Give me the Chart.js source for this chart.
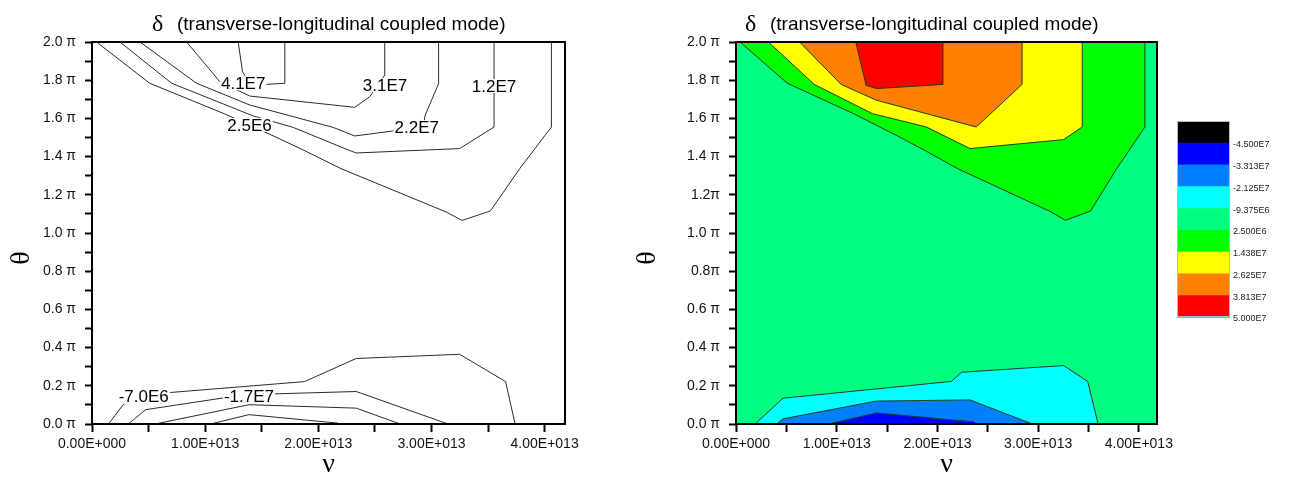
<!DOCTYPE html>
<html>
<head>
<meta charset="utf-8">
<script src="https://cdn.jsdelivr.net/npm/chart.js@4.4.1/dist/chart.umd.min.js"></script>
<style>
  html, body { margin: 0; padding: 0; background: #fff; }
  #wrap { position: relative; width: 1290px; height: 497px; }
  #left-box { position: absolute; left: 0; top: 0; width: 620px; height: 497px; }
  #right-box { position: absolute; left: 620px; top: 0; width: 670px; height: 497px; }
</style>
</head>
<body>
<div id="wrap">
  <div id="left-box"><canvas id="contour-lines"></canvas></div>
  <div id="right-box"><canvas id="contour-filled"></canvas></div>
</div>
<script>
// nu values are in units of 1E13, theta values in units of pi
const nuMax = 4.18;
const thetaMax = 2.0;

// 2.5E6 contour, shared by both panels
const lvl25e5Nu = [0.04, 0.51, 1.174, 1.60, 1.866, 2.20, 3.13, 3.27, 3.52, 3.78, 4.06, 4.06];
const lvl25e5Th = [2.0, 1.784, 1.623, 1.509, 1.435, 1.337, 1.11, 1.066, 1.115, 1.337, 1.555, 2.0];

// left panel: contour lines
const lvl12e7Nu = [0.247, 0.704, 1.424, 1.778, 2.263, 2.335, 3.249, 3.553, 3.553];
const lvl12e7Th = [2.0, 1.784, 1.613, 1.553, 1.435, 1.419, 1.442, 1.555, 2.0];
const lvl22e7Nu = [0.424, 0.924, 1.395, 2.131, 2.322, 2.657, 2.93, 2.944, 3.063, 3.063];
const lvl22e7Th = [2.0, 1.784, 1.670, 1.553, 1.508, 1.534, 1.57, 1.616, 1.782, 2.0];
const lvl31e7Nu = [0.836, 1.13, 1.395, 2.322, 2.455, 2.587, 2.587];
const lvl31e7Th = [2.0, 1.792, 1.717, 1.658, 1.714, 1.827, 2.0];
const lvl41e7Nu = [1.292, 1.33, 1.40, 1.54, 1.704, 1.704];
const lvl41e7Th = [2.0, 1.844, 1.78, 1.778, 1.784, 2.0];
const lvlM70e6Nu = [0.146, 0.30, 0.694, 1.878, 2.335, 3.249, 3.655, 3.739];
const lvlM70e6Th = [0, 0.12, 0.165, 0.222, 0.343, 0.365, 0.222, 0];
const lvlM17e7Nu = [0.321, 0.474, 1.20, 1.624, 2.335, 3.147];
const lvlM17e7Th = [0, 0.075, 0.14, 0.158, 0.17, 0];
const lvlM26e7Nu = [0.558, 1.387, 2.335, 2.724];
const lvlM26e7Th = [0, 0.101, 0.083, 0];
const lvlM36e7Nu = [1.049, 1.387, 2.166, 2.19];
const lvlM36e7Th = [0, 0.049, 0.005, 0];

const lineLabelText = ['4.1E7', '3.1E7', '1.2E7', '2.5E6', '2.2E7', '-7.0E6', '-1.7E7'];
const lineLabelNu = [1.336, 2.589, 3.553, 1.392, 2.87, 0.457, 1.387];
const lineLabelTh = [1.784, 1.773, 1.77, 1.566, 1.555, 0.144, 0.144];

// right panel: filled regions
const fillYellowNu = [0.322, 0.776, 1.354, 1.89, 2.324, 3.252, 3.438, 3.438];
const fillYellowTh = [2.0, 1.778, 1.625, 1.555, 1.442, 1.489, 1.555, 2.0];
const fillOrangeNu = [0.631, 1.044, 1.395, 2.385, 2.84, 2.84];
const fillOrangeTh = [2.0, 1.778, 1.695, 1.555, 1.778, 2.0];
const fillRedNu = [1.189, 1.292, 1.395, 2.055, 2.055];
const fillRedTh = [2.0, 1.773, 1.756, 1.778, 2.0];
const fillCyanNu = [0.19, 0.466, 2.138, 2.241, 3.252, 3.492, 3.595];
const fillCyanTh = [0, 0.135, 0.223, 0.271, 0.306, 0.223, 0];
const fillAzureNu = [0.404, 0.466, 1.395, 2.324, 2.943];
const fillAzureTh = [0, 0.027, 0.12, 0.126, 0];
const fillBlueNu = [0.92, 1.395, 2.365, 2.385];
const fillBlueTh = [0, 0.058, 0.011, 0];

const levelLabels = ['-4.500E7', '-3.313E7', '-2.125E7', '-9.375E6', '2.500E6', '1.438E7', '2.625E7', '3.813E7', '5.000E7'];
const levelColors = ['#000000', '#0000ff', '#0080ff', '#00ffff', '#00ff80', '#00ff00', '#ffff00', '#ff8000', '#ff0000'];

const leftThetaLabels = ['0.0 π', '0.2 π', '0.4 π', '0.6 π', '0.8 π', '1.0 π', '1.2 π', '1.4 π', '1.6 π', '1.8 π', '2.0 π'];
const rightThetaLabels = ['0.0 π', '0.2 π', '0.4 π', '0.6 π', '0.8π', '1.0 π', '1.2π', '1.4 π', '1.6 π', '1.8 π', '2.0 π'];

const SANS = '"Liberation Sans", Arial, sans-serif';
const SERIF = '"Liberation Serif", "Times New Roman", serif';

function toPoints(nu, th) {
    return nu.map((x, i) => ({ x: x, y: th[i] }));
}

function nuLabel(v) {
    const k = Math.round(v * 2);
    if (k % 2 !== 0) return '';
    const parts = (v * 1e13).toExponential(2).split('e');
    const sign = parts[1][0] === '-' ? '-' : '+';
    return parts[0] + 'E' + sign + parts[1].replace(/[+-]/, '').padStart(3, '0');
}

function scalesFor(thetaLabels, yWidth) {
    return {
        x: {
            type: 'linear', min: 0, max: nuMax,
            afterFit: s => { s.height = 73; },
            ticks: {
                stepSize: 0.5, autoSkip: false, includeBounds: false, maxRotation: 0, minRotation: 0,
                padding: 4, color: '#111', font: { family: SANS, size: 14 },
                callback: nuLabel
            },
            grid: { drawOnChartArea: false, tickLength: 8, tickWidth: 2, tickColor: '#000' },
            border: { display: false }
        },
        y: {
            type: 'linear', min: 0, max: thetaMax,
            afterFit: s => { s.width = yWidth; },
            ticks: {
                stepSize: 0.1, maxTicksLimit: 30, autoSkip: false, includeBounds: false,
                padding: 9, color: '#111', font: { family: SANS, size: 14 },
                callback: v => {
                    const k = Math.round(v * 10);
                    return k % 2 === 0 ? thetaLabels[k / 2] : '';
                }
            },
            grid: { drawOnChartArea: false, tickLength: 7, tickWidth: 2, tickColor: '#000' },
            border: { display: false }
        }
    };
}

function drawFrame(chart) {
    const ctx = chart.ctx, a = chart.chartArea;
    ctx.save();
    ctx.strokeStyle = '#000';
    ctx.lineWidth = 2;
    ctx.strokeRect(a.left, a.top, a.right - a.left, a.bottom - a.top);
    ctx.restore();
}

function drawTitles(chart, titleX, thetaX) {
    const ctx = chart.ctx, a = chart.chartArea;
    ctx.save();
    ctx.fillStyle = '#000';
    ctx.textAlign = 'left';
    ctx.textBaseline = 'alphabetic';
    ctx.font = '24px ' + SERIF;
    ctx.fillText('δ', titleX, 31);
    ctx.font = '19px ' + SANS;
    ctx.fillText('(transverse-longitudinal coupled mode)', titleX + 25, 30);

    ctx.font = '28px ' + SERIF;
    ctx.textAlign = 'center';
    ctx.fillText('ν', (a.left + a.right) / 2, 472);

    ctx.translate(thetaX, 258);
    ctx.rotate(-Math.PI / 2);
    ctx.textBaseline = 'middle';
    ctx.fillText('θ', 0, 0);
    ctx.restore();
}

function drawLineLabels(chart) {
    const ctx = chart.ctx, xs = chart.scales.x, ys = chart.scales.y;
    ctx.save();
    ctx.font = '17px ' + SANS;
    ctx.textAlign = 'center';
    ctx.textBaseline = 'middle';
    lineLabelText.forEach((t, i) => {
        const px = xs.getPixelForValue(lineLabelNu[i]);
        const py = ys.getPixelForValue(lineLabelTh[i]);
        const w = ctx.measureText(t).width;
        ctx.fillStyle = '#fff';
        ctx.fillRect(px - w / 2 - 1, py - 7, w + 2, 14);
        ctx.fillStyle = '#000';
        ctx.fillText(t, px, py + 1);
    });
    ctx.restore();
}

function drawColorBar(chart) {
    const ctx = chart.ctx;
    const left = 557, top = 121, w = 53, h = 196;
    const band = h / levelColors.length;
    ctx.save();
    levelColors.forEach((c, i) => {
        ctx.fillStyle = c;
        ctx.fillRect(left, top + i * band, w, band + 0.5);
    });
    ctx.strokeStyle = '#bbb';
    ctx.lineWidth = 1;
    ctx.strokeRect(left + 0.5, top + 0.5, w - 1, h - 1);
    ctx.font = '9px ' + SANS;
    ctx.fillStyle = '#222';
    ctx.textAlign = 'left';
    ctx.textBaseline = 'middle';
    levelLabels.forEach((t, i) => {
        ctx.fillText(t, left + w + 3, top + (i + 1) * band + 2);
    });
    ctx.restore();
}

const leftDecor = {
    id: 'leftDecor',
    afterDatasetsDraw(chart) {
        drawLineLabels(chart);
        drawFrame(chart);
        drawTitles(chart, 152, 22);
    }
};

const rightDecor = {
    id: 'rightDecor',
    beforeDatasetsDraw(chart) {
        const ctx = chart.ctx, a = chart.chartArea;
        ctx.save();
        ctx.fillStyle = levelColors[4];
        ctx.fillRect(a.left, a.top, a.right - a.left, a.bottom - a.top);
        ctx.restore();
    },
    afterDatasetsDraw(chart) {
        drawFrame(chart);
        drawTitles(chart, 125, 28);
        drawColorBar(chart);
    }
};

function contourLine(nu, th) {
    return { data: toPoints(nu, th), borderColor: '#2a2a2a', borderWidth: 1, pointRadius: 0, fill: false, tension: 0 };
}

function region(nu, th, color, order) {
    return {
        data: toPoints(nu, th), borderColor: '#1d3d1d', borderWidth: 1, backgroundColor: color,
        fill: 'shape', pointRadius: 0, tension: 0, order: order
    };
}

const common = {
    responsive: true,
    maintainAspectRatio: false,
    animation: false,
    devicePixelRatio: 1,
    events: [],
    plugins: { legend: { display: false }, tooltip: { enabled: false } }
};

new Chart(document.getElementById('contour-lines').getContext('2d'), {
    type: 'line',
    data: {
        datasets: [
            contourLine(lvl25e5Nu, lvl25e5Th),
            contourLine(lvl12e7Nu, lvl12e7Th),
            contourLine(lvl22e7Nu, lvl22e7Th),
            contourLine(lvl31e7Nu, lvl31e7Th),
            contourLine(lvl41e7Nu, lvl41e7Th),
            contourLine(lvlM70e6Nu, lvlM70e6Th),
            contourLine(lvlM17e7Nu, lvlM17e7Th),
            contourLine(lvlM26e7Nu, lvlM26e7Th),
            contourLine(lvlM36e7Nu, lvlM36e7Th)
        ]
    },
    options: Object.assign({}, common, {
        layout: { padding: { top: 42, right: 55, bottom: 0, left: 0 } },
        scales: scalesFor(leftThetaLabels, 92)
    }),
    plugins: [leftDecor]
});

new Chart(document.getElementById('contour-filled').getContext('2d'), {
    type: 'line',
    data: {
        datasets: [
            region(lvl25e5Nu, lvl25e5Th, levelColors[5], 4),
            region(fillYellowNu, fillYellowTh, levelColors[6], 3),
            region(fillOrangeNu, fillOrangeTh, levelColors[7], 2),
            region(fillRedNu, fillRedTh, levelColors[8], 1),
            region(fillCyanNu, fillCyanTh, levelColors[3], 3),
            region(fillAzureNu, fillAzureTh, levelColors[2], 2),
            region(fillBlueNu, fillBlueTh, levelColors[1], 1)
        ]
    },
    options: Object.assign({}, common, {
        layout: { padding: { top: 42, right: 133, bottom: 0, left: 0 } },
        scales: scalesFor(rightThetaLabels, 116)
    }),
    plugins: [rightDecor]
});
</script>
</body>
</html>
